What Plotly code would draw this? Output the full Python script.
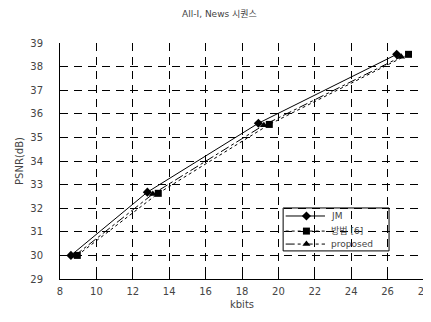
import plotly.graph_objects as go

jm_x = [8.6, 12.8, 18.9, 26.5]
jm_y = [30.0, 32.68, 35.6, 38.52]
m6_x = [8.95, 13.4, 19.5, 27.15]
m6_y = [30.0, 32.63, 35.55, 38.52]
pr_x = [8.8, 13.1, 19.2, 26.75]
pr_y = [29.98, 32.6, 35.52, 38.42]

series_names = ["JM", "방법 [6]", "proposed"]
x_ticks = list(range(8, 29, 2))
y_ticks = list(range(29, 40))

font = "DejaVu Sans, Noto Sans CJK KR, sans-serif"
txt = "#444444"

styles = [
    dict(dash="solid", symbol="diamond"),
    dict(dash="dot", symbol="square"),
    dict(dash="dashdot", symbol="triangle-up"),
]

fig = go.Figure()
for name, xs, ys, st in zip(series_names, [jm_x, m6_x, pr_x], [jm_y, m6_y, pr_y], styles):
    fig.add_trace(go.Scatter(x=xs, y=ys, name=name, mode="lines+markers",
                             line=dict(color="black", width=1, dash=st["dash"]),
                             marker=dict(symbol=st["symbol"], size=7, color="black"),
                             showlegend=False))

# custom legend (compact box like the reference), drawn on an overlay axis 0..1
leg_rows = [0.267, 0.203, 0.148]
fig.add_shape(type="rect", xref="paper", yref="paper", x0=0.613, x1=0.904, y0=0.119, y1=0.301,
              line=dict(color="black", width=1), fillcolor="white", layer="between")
for name, st, ry in zip(series_names, styles, leg_rows):
    fig.add_trace(go.Scatter(x=[0.62, 0.677, 0.728], y=[ry, ry, ry], mode="lines",
                             line=dict(color="black", width=1, dash=st["dash"]),
                             xaxis="x2", yaxis="y2", showlegend=False, hoverinfo="skip"))
    fig.add_trace(go.Scatter(x=[0.677], y=[ry], mode="markers",
                             marker=dict(symbol=st["symbol"], size=7, color="black"),
                             xaxis="x2", yaxis="y2", showlegend=False, hoverinfo="skip"))
    fig.add_annotation(x=0.74, y=ry, xref="paper", yref="paper", text=name, showarrow=False,
                       xanchor="left", yanchor="middle", font=dict(size=9, color=txt))

fig.update_layout(
    width=423, height=314,
    margin=dict(l=52, r=7, t=35, b=43, autoexpand=False),
    paper_bgcolor="white", plot_bgcolor="white",
    font=dict(family=font, size=10, color=txt),
    title=dict(text="All-I, News 시퀀스", x=0.5, xanchor="center", y=0.99, yanchor="top",
               font=dict(size=9, color=txt)),
    xaxis=dict(range=[8, 28], tickvals=x_ticks, showgrid=True, gridcolor="black",
               griddash="8px,6px", gridwidth=1, showline=True, linecolor="black", linewidth=1,
               zeroline=False, ticks="inside", ticklen=4, tickcolor="black", automargin=False,
               ticklabelstandoff=3,
               title=dict(text="kbits", standoff=4, font=dict(size=10))),
    yaxis=dict(range=[29, 39], tickvals=y_ticks, showgrid=True, gridcolor="black",
               griddash="8px,6px", gridwidth=1, showline=True, linecolor="black", linewidth=1,
               zeroline=False, ticks="inside", ticklen=4, tickcolor="black",
               ticklabelstandoff=14, automargin=False,
               title=dict(text="PSNR(dB)", standoff=4, font=dict(size=10))),
    xaxis2=dict(range=[0, 1], overlaying="x", visible=False, fixedrange=True),
    yaxis2=dict(range=[0, 1], overlaying="y", visible=False, fixedrange=True),
    showlegend=False,
)

fig.write_html("out.html")
